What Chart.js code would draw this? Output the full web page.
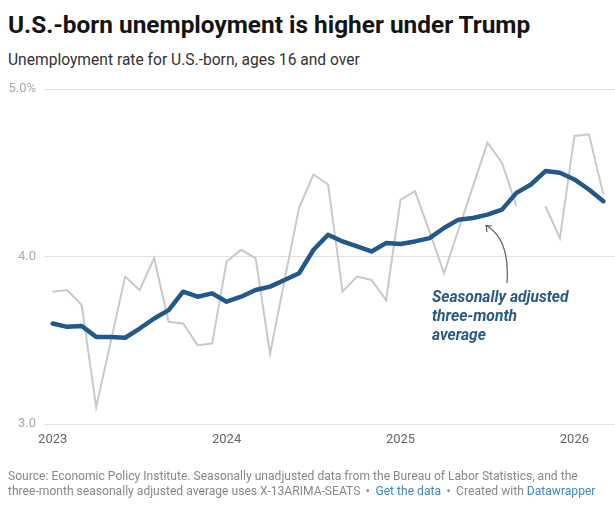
<!DOCTYPE html>
<html>
<head>
<meta charset="utf-8">
<script src="https://cdn.jsdelivr.net/npm/chart.js@4"></script>
<style>
  body { margin: 0; background: #fff; font-family: Roboto, "Noto Sans", sans-serif; }
  #pagina { position: relative; width: 615px; height: 508px; overflow: hidden; }
  #titulo { position: absolute; left: 8px; top: 11px; font-size: 24.4px; font-weight: 700; color: #141414; line-height: 28px; white-space: nowrap; }
  #subtitulo { position: absolute; left: 8px; top: 51px; font-size: 15.6px; color: #333; line-height: 18px; white-space: nowrap; }
  #caixaGrafico { position: absolute; left: 0; top: 78px; width: 615px; height: 375px; }
  #nota { position: absolute; left: 432px; top: 288px; font-size: 15.6px; font-weight: 700; font-style: italic; color: #2a5a86; line-height: 19px; }
  #seta { position: absolute; left: 0; top: 0; }
  #rodape { position: absolute; left: 8px; top: 469px; font-size: 12.1px; color: #888; line-height: 14.5px; white-space: nowrap; }
  #rodape a { color: #3f89c4; text-decoration: none; }
  #rodape .sep { margin: 0 2.5px; }
</style>
</head>
<body>
<div id="pagina">
  <div id="titulo">U.S.-born unemployment is higher under Trump</div>
  <div id="subtitulo">Unemployment rate for U.S.-born, ages 16 and over</div>
  <div id="caixaGrafico"><canvas id="grafico"></canvas></div>
  <svg id="seta" width="615" height="508">
    <path d="M507,283 Q510,240 487,226" fill="none" stroke="#52606d" stroke-width="1.2"/>
    <path d="M487,232 L486,225.5 L492,226" fill="none" stroke="#52606d" stroke-width="1.2"/>
  </svg>
  <div id="nota">Seasonally adjusted<br>three-month<br>average</div>
  <div id="rodape">Source: Economic Policy Institute. Seasonally unadjusted data from the Bureau of Labor Statistics, and the<br>three-month seasonally adjusted average uses X-13ARIMA-SEATS <span class="sep">•</span> <a>Get the data</a> <span class="sep">•</span> Created with <a>Datawrapper</a></div>
</div>
<script>
const meses = [
    "2023-01", "2023-02", "2023-03", "2023-04", "2023-05", "2023-06", "2023-07", "2023-08", "2023-09", "2023-10", "2023-11", "2023-12",
    "2024-01", "2024-02", "2024-03", "2024-04", "2024-05", "2024-06", "2024-07", "2024-08", "2024-09", "2024-10", "2024-11", "2024-12",
    "2025-01", "2025-02", "2025-03", "2025-04", "2025-05", "2025-06", "2025-07", "2025-08", "2025-09", "2025-10", "2025-11", "2025-12",
    "2026-01", "2026-02", "2026-03"
];

// taxa sem ajuste sazonal (cinza); outubro de 2025 sem dado
const semAjuste = [
    3.79, 3.80, 3.71, 3.10, 3.49, 3.88, 3.80, 3.99, 3.61, 3.60, 3.47, 3.48,
    3.97, 4.04, 3.99, 3.42, 3.86, 4.29, 4.49, 4.43, 3.79, 3.88, 3.86, 3.74,
    4.34, 4.39, 4.15, 3.90, 4.16, 4.42, 4.68, 4.56, 4.30, null, 4.30, 4.11,
    4.72, 4.73, 4.37
];

// media movel de tres meses, com ajuste sazonal (azul)
const mediaAjustada = [
    3.60, 3.58, 3.585, 3.52, 3.52, 3.515, 3.57, 3.63, 3.68, 3.79, 3.76, 3.78,
    3.73, 3.76, 3.80, 3.82, 3.86, 3.90, 4.04, 4.13, 4.09, 4.06, 4.03, 4.08,
    4.075, 4.09, 4.11, 4.17, 4.22, 4.23, 4.25, 4.28, 4.38, 4.43, 4.51, 4.50,
    4.46, 4.40, 4.33
];

const anosTicks = ["2023-01", "2024-01", "2025-01", "2026-01"];
const anosRotulos = ["2023", "2024", "2025", "2026"];
const eixoYValores = [3, 4, 5];
const eixoYRotulos = ["3.0", "4.0", "5.0%"];

function pontos(serie) {
    return serie.map(function (v, i) {
        return { x: i, y: v };
    });
}

let ctx = document.getElementById("grafico");

let grafico = new Chart(ctx, {
    type: "line",
    data: {
        datasets: [{
            label: "Seasonally adjusted three-month average",
            data: pontos(mediaAjustada),
            borderColor: "#23598a",
            borderWidth: 4.5,
            borderCapStyle: "round",
            borderJoinStyle: "round",
            pointRadius: 0,
            tension: 0
        }, {
            label: "Not seasonally adjusted",
            data: pontos(semAjuste),
            borderColor: "#c9c9c9",
            borderWidth: 2,
            pointRadius: 0,
            spanGaps: false,
            tension: 0
        }]
    },
    options: {
        responsive: true,
        maintainAspectRatio: false,
        animation: false,
        layout: {
            padding: { top: 11, right: 0, bottom: 5, left: 0 }
        },
        plugins: {
            legend: { display: false },
            tooltip: { enabled: false }
        },
        scales: {
            x: {
                type: "linear",
                min: -0.6,
                max: 38.8,
                grid: { display: false, drawTicks: false },
                border: { display: false },
                afterFit: function (scale) {
                    scale.height = 24;
                    scale.paddingLeft = 0;
                    scale.paddingRight = 0;
                },
                afterBuildTicks: function (scale) {
                    scale.ticks = anosTicks.map(function (m) {
                        return { value: meses.indexOf(m) };
                    });
                },
                ticks: {
                    padding: 8,
                    color: "#666",
                    font: { family: "Roboto", size: 13 },
                    callback: function (value) {
                        let i = anosTicks.indexOf(meses[value]);
                        return i >= 0 ? anosRotulos[i] : "";
                    }
                }
            },
            y: {
                min: 3,
                max: 5,
                grid: {
                    color: "#e2e2e2",
                    lineWidth: 1,
                    drawTicks: false
                },
                border: { display: false },
                afterFit: function (scale) {
                    scale.width = 44;
                    scale.paddingTop = 0;
                    scale.paddingBottom = 0;
                },
                afterBuildTicks: function (scale) {
                    scale.ticks = eixoYValores.map(function (v) {
                        return { value: v };
                    });
                },
                ticks: {
                    padding: 8,
                    color: "#aaa",
                    font: { family: "Roboto", size: 13 },
                    callback: function (value) {
                        let i = eixoYValores.indexOf(value);
                        return i >= 0 ? eixoYRotulos[i] : "";
                    }
                }
            }
        }
    }
});
</script>
</body>
</html>
